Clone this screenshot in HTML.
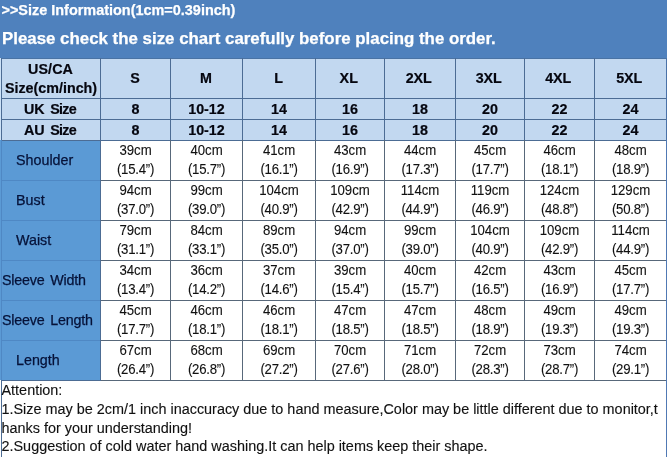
<!DOCTYPE html>
<html><head><meta charset="utf-8"><style>
*{margin:0;padding:0;box-sizing:border-box}
html,body{width:667px;height:457px;overflow:hidden;background:#fff}
body{position:relative;font-family:"Liberation Sans",sans-serif;color:#161616}
.a{position:absolute}
#w{position:absolute;left:0;top:0;width:667px;height:457px;will-change:transform}
.t1{left:1.5px;top:0px;font-weight:bold;font-size:14.45px;color:#fff;-webkit-text-stroke:0.25px #fff;line-height:20px;white-space:nowrap}
.t2{left:2px;top:28px;font-weight:bold;font-size:16.86px;color:#fff;-webkit-text-stroke:0.25px #fff;line-height:22px;white-space:nowrap}
.c{text-align:center;white-space:nowrap}
.b{font-weight:bold;font-size:14.3px;color:#05060f;-webkit-text-stroke:0.2px #05060f}
.d{font-size:13.2px;line-height:19px;color:#111;-webkit-text-stroke:0.1px #111}
.l2{letter-spacing:-0.25px}
.k{display:inline-block;transform:scaleY(1.08);transform-origin:50% 14px}
.sz{letter-spacing:-0.7px}
.lab{font-size:14.3px;color:#061238;-webkit-text-stroke:0.25px #061238;white-space:nowrap;line-height:20px}
.att{left:1.5px;font-size:14.42px;line-height:18.8px;color:#111;-webkit-text-stroke:0.12px #111;white-space:nowrap}
</style></head>
<body><div id="w">
<div class="a" style="left:0;top:0;width:667px;height:58px;background:#4F81BD"></div>
<div class="a t1">&gt;&gt;Size Information(1cm=0.39inch)</div>
<div class="a t2">Please check the size chart carefully before placing the order.</div>
<div class="a" style="left:0;top:58px;width:667px;height:82px;background:#C2D8F0"></div>
<div class="a" style="left:0;top:58px;width:1px;height:82px;background:#CCE2F8"></div>
<div class="a" style="left:0;top:140px;width:100px;height:240px;background:#5B9AD5"></div>
<div class="a" style="left:1px;top:58px;width:666px;height:1px;background:#4A73A4"></div>
<div class="a" style="left:1px;top:98px;width:666px;height:1px;background:#4C6C94"></div>
<div class="a" style="left:1px;top:119px;width:666px;height:1px;background:#4C6C94"></div>
<div class="a" style="left:1px;top:140px;width:666px;height:1px;background:#4C6C94"></div>
<div class="a" style="left:1px;top:180px;width:99px;height:1px;background:#4F88C4"></div>
<div class="a" style="left:100px;top:180px;width:567px;height:1px;background:#58687A"></div>
<div class="a" style="left:1px;top:220px;width:99px;height:1px;background:#4F88C4"></div>
<div class="a" style="left:100px;top:220px;width:567px;height:1px;background:#58687A"></div>
<div class="a" style="left:1px;top:260px;width:99px;height:1px;background:#4F88C4"></div>
<div class="a" style="left:100px;top:260px;width:567px;height:1px;background:#58687A"></div>
<div class="a" style="left:1px;top:300px;width:99px;height:1px;background:#4F88C4"></div>
<div class="a" style="left:100px;top:300px;width:567px;height:1px;background:#58687A"></div>
<div class="a" style="left:1px;top:340px;width:99px;height:1px;background:#4F88C4"></div>
<div class="a" style="left:100px;top:340px;width:567px;height:1px;background:#58687A"></div>
<div class="a" style="left:1px;top:380px;width:99px;height:1px;background:#4C6C94"></div>
<div class="a" style="left:100px;top:380px;width:567px;height:1px;background:#58687A"></div>
<div class="a" style="left:1px;top:58px;width:1px;height:82px;background:#4C6C94"></div>
<div class="a" style="left:1px;top:140px;width:1px;height:240px;background:#4F88C4"></div>
<div class="a" style="left:1px;top:380px;width:1px;height:77px;background:#4C6C94"></div>
<div class="a" style="left:100px;top:58px;width:1px;height:82px;background:#4C6C94"></div>
<div class="a" style="left:100px;top:140px;width:1px;height:241px;background:#4C6C94"></div>
<div class="a" style="left:170px;top:58px;width:1px;height:82px;background:#4C6C94"></div>
<div class="a" style="left:170px;top:140px;width:1px;height:241px;background:#58687A"></div>
<div class="a" style="left:242px;top:58px;width:1px;height:82px;background:#4C6C94"></div>
<div class="a" style="left:242px;top:140px;width:1px;height:241px;background:#58687A"></div>
<div class="a" style="left:315px;top:58px;width:1px;height:82px;background:#4C6C94"></div>
<div class="a" style="left:315px;top:140px;width:1px;height:241px;background:#58687A"></div>
<div class="a" style="left:384px;top:58px;width:1px;height:82px;background:#4C6C94"></div>
<div class="a" style="left:384px;top:140px;width:1px;height:241px;background:#58687A"></div>
<div class="a" style="left:455px;top:58px;width:1px;height:82px;background:#4C6C94"></div>
<div class="a" style="left:455px;top:140px;width:1px;height:241px;background:#58687A"></div>
<div class="a" style="left:524px;top:58px;width:1px;height:82px;background:#4C6C94"></div>
<div class="a" style="left:524px;top:140px;width:1px;height:241px;background:#58687A"></div>
<div class="a" style="left:594px;top:58px;width:1px;height:82px;background:#4C6C94"></div>
<div class="a" style="left:594px;top:140px;width:1px;height:241px;background:#58687A"></div>
<div class="a" style="left:666px;top:58px;width:1px;height:82px;background:#4A72A8"></div>
<div class="a" style="left:666px;top:140px;width:1px;height:317px;background:#5079B4"></div>
<div class="a c b" style="left:2px;width:98px;top:59px;line-height:19px;top:60px"><span style="letter-spacing:0.1px;margin-left:-1px">US/CA</span><br>Size(cm/inch)</div>
<div class="a c b" style="left:101px;width:69px;top:68px;line-height:20px;padding-right:1px">S</div>
<div class="a c b" style="left:171px;width:71px;top:68px;line-height:20px;padding-right:1px">M</div>
<div class="a c b" style="left:243px;width:72px;top:68px;line-height:20px;padding-right:1px">L</div>
<div class="a c b" style="left:316px;width:68px;top:68px;line-height:20px;padding-right:2.5px">XL</div>
<div class="a c b" style="left:385px;width:70px;top:68px;line-height:20px;padding-right:2.5px">2XL</div>
<div class="a c b" style="left:456px;width:68px;top:68px;line-height:20px;padding-right:2.5px">3XL</div>
<div class="a c b" style="left:525px;width:69px;top:68px;line-height:20px;padding-right:2.5px">4XL</div>
<div class="a c b" style="left:595px;width:71px;top:68px;line-height:20px;padding-right:2.5px">5XL</div>
<div class="a c b" style="left:2px;width:96px;top:99px;line-height:20px;word-spacing:1.5px">UK <span class="sz">Size</span></div>
<div class="a c b" style="left:2px;width:96px;top:120px;line-height:20px;word-spacing:1.5px">AU <span class="sz">Size</span></div>
<div class="a c b" style="left:101px;width:69px;top:99px;line-height:20px">8</div>
<div class="a c b" style="left:101px;width:69px;top:120px;line-height:20px">8</div>
<div class="a c b" style="left:171px;width:71px;top:99px;line-height:20px">10-12</div>
<div class="a c b" style="left:171px;width:71px;top:120px;line-height:20px">10-12</div>
<div class="a c b" style="left:243px;width:72px;top:99px;line-height:20px">14</div>
<div class="a c b" style="left:243px;width:72px;top:120px;line-height:20px">14</div>
<div class="a c b" style="left:316px;width:68px;top:99px;line-height:20px">16</div>
<div class="a c b" style="left:316px;width:68px;top:120px;line-height:20px">16</div>
<div class="a c b" style="left:385px;width:70px;top:99px;line-height:20px">18</div>
<div class="a c b" style="left:385px;width:70px;top:120px;line-height:20px">18</div>
<div class="a c b" style="left:456px;width:68px;top:99px;line-height:20px">20</div>
<div class="a c b" style="left:456px;width:68px;top:120px;line-height:20px">20</div>
<div class="a c b" style="left:525px;width:69px;top:99px;line-height:20px">22</div>
<div class="a c b" style="left:525px;width:69px;top:120px;line-height:20px">22</div>
<div class="a c b" style="left:595px;width:71px;top:99px;line-height:20px">24</div>
<div class="a c b" style="left:595px;width:71px;top:120px;line-height:20px">24</div>
<div class="a lab" style="left:16px;top:150px;">Shoulder</div>
<div class="a c d" style="left:101px;width:69px;top:141px;"><span class="k">39cm</span><br><span class="k l2">(15.4”)</span></div>
<div class="a c d" style="left:171px;width:71px;top:141px;"><span class="k">40cm</span><br><span class="k l2">(15.7”)</span></div>
<div class="a c d" style="left:243px;width:72px;top:141px;"><span class="k">41cm</span><br><span class="k l2">(16.1”)</span></div>
<div class="a c d" style="left:316px;width:68px;top:141px;"><span class="k">43cm</span><br><span class="k l2">(16.9”)</span></div>
<div class="a c d" style="left:385px;width:70px;top:141px;"><span class="k">44cm</span><br><span class="k l2">(17.3”)</span></div>
<div class="a c d" style="left:456px;width:68px;top:141px;"><span class="k">45cm</span><br><span class="k l2">(17.7”)</span></div>
<div class="a c d" style="left:525px;width:69px;top:141px;"><span class="k">46cm</span><br><span class="k l2">(18.1”)</span></div>
<div class="a c d" style="left:595px;width:71px;top:141px;"><span class="k">48cm</span><br><span class="k l2">(18.9”)</span></div>
<div class="a lab" style="left:16px;top:190px;">Bust</div>
<div class="a c d" style="left:101px;width:69px;top:181px;"><span class="k">94cm</span><br><span class="k l2">(37.0”)</span></div>
<div class="a c d" style="left:171px;width:71px;top:181px;"><span class="k">99cm</span><br><span class="k l2">(39.0”)</span></div>
<div class="a c d" style="left:243px;width:72px;top:181px;"><span class="k">104cm</span><br><span class="k l2">(40.9”)</span></div>
<div class="a c d" style="left:316px;width:68px;top:181px;"><span class="k">109cm</span><br><span class="k l2">(42.9”)</span></div>
<div class="a c d" style="left:385px;width:70px;top:181px;"><span class="k">114cm</span><br><span class="k l2">(44.9”)</span></div>
<div class="a c d" style="left:456px;width:68px;top:181px;"><span class="k">119cm</span><br><span class="k l2">(46.9”)</span></div>
<div class="a c d" style="left:525px;width:69px;top:181px;"><span class="k">124cm</span><br><span class="k l2">(48.8”)</span></div>
<div class="a c d" style="left:595px;width:71px;top:181px;"><span class="k">129cm</span><br><span class="k l2">(50.8”)</span></div>
<div class="a lab" style="left:16px;top:230px;">Waist</div>
<div class="a c d" style="left:101px;width:69px;top:221px;"><span class="k">79cm</span><br><span class="k l2">(31.1”)</span></div>
<div class="a c d" style="left:171px;width:71px;top:221px;"><span class="k">84cm</span><br><span class="k l2">(33.1”)</span></div>
<div class="a c d" style="left:243px;width:72px;top:221px;"><span class="k">89cm</span><br><span class="k l2">(35.0”)</span></div>
<div class="a c d" style="left:316px;width:68px;top:221px;"><span class="k">94cm</span><br><span class="k l2">(37.0”)</span></div>
<div class="a c d" style="left:385px;width:70px;top:221px;"><span class="k">99cm</span><br><span class="k l2">(39.0”)</span></div>
<div class="a c d" style="left:456px;width:68px;top:221px;"><span class="k">104cm</span><br><span class="k l2">(40.9”)</span></div>
<div class="a c d" style="left:525px;width:69px;top:221px;"><span class="k">109cm</span><br><span class="k l2">(42.9”)</span></div>
<div class="a c d" style="left:595px;width:71px;top:221px;"><span class="k">114cm</span><br><span class="k l2">(44.9”)</span></div>
<div class="a lab" style="left:2px;top:270px;word-spacing:2px;letter-spacing:-0.2px;">Sleeve Width</div>
<div class="a c d" style="left:101px;width:69px;top:261px;"><span class="k">34cm</span><br><span class="k l2">(13.4”)</span></div>
<div class="a c d" style="left:171px;width:71px;top:261px;"><span class="k">36cm</span><br><span class="k l2">(14.2”)</span></div>
<div class="a c d" style="left:243px;width:72px;top:261px;"><span class="k">37cm</span><br><span class="k l2">(14.6”)</span></div>
<div class="a c d" style="left:316px;width:68px;top:261px;"><span class="k">39cm</span><br><span class="k l2">(15.4”)</span></div>
<div class="a c d" style="left:385px;width:70px;top:261px;"><span class="k">40cm</span><br><span class="k l2">(15.7”)</span></div>
<div class="a c d" style="left:456px;width:68px;top:261px;"><span class="k">42cm</span><br><span class="k l2">(16.5”)</span></div>
<div class="a c d" style="left:525px;width:69px;top:261px;"><span class="k">43cm</span><br><span class="k l2">(16.9”)</span></div>
<div class="a c d" style="left:595px;width:71px;top:261px;"><span class="k">45cm</span><br><span class="k l2">(17.7”)</span></div>
<div class="a lab" style="left:2px;top:310px;word-spacing:2px;letter-spacing:-0.2px;">Sleeve Length</div>
<div class="a c d" style="left:101px;width:69px;top:301px;"><span class="k">45cm</span><br><span class="k l2">(17.7”)</span></div>
<div class="a c d" style="left:171px;width:71px;top:301px;"><span class="k">46cm</span><br><span class="k l2">(18.1”)</span></div>
<div class="a c d" style="left:243px;width:72px;top:301px;"><span class="k">46cm</span><br><span class="k l2">(18.1”)</span></div>
<div class="a c d" style="left:316px;width:68px;top:301px;"><span class="k">47cm</span><br><span class="k l2">(18.5”)</span></div>
<div class="a c d" style="left:385px;width:70px;top:301px;"><span class="k">47cm</span><br><span class="k l2">(18.5”)</span></div>
<div class="a c d" style="left:456px;width:68px;top:301px;"><span class="k">48cm</span><br><span class="k l2">(18.9”)</span></div>
<div class="a c d" style="left:525px;width:69px;top:301px;"><span class="k">49cm</span><br><span class="k l2">(19.3”)</span></div>
<div class="a c d" style="left:595px;width:71px;top:301px;"><span class="k">49cm</span><br><span class="k l2">(19.3”)</span></div>
<div class="a lab" style="left:16px;top:350px;">Length</div>
<div class="a c d" style="left:101px;width:69px;top:341px;"><span class="k">67cm</span><br><span class="k l2">(26.4”)</span></div>
<div class="a c d" style="left:171px;width:71px;top:341px;"><span class="k">68cm</span><br><span class="k l2">(26.8”)</span></div>
<div class="a c d" style="left:243px;width:72px;top:341px;"><span class="k">69cm</span><br><span class="k l2">(27.2”)</span></div>
<div class="a c d" style="left:316px;width:68px;top:341px;"><span class="k">70cm</span><br><span class="k l2">(27.6”)</span></div>
<div class="a c d" style="left:385px;width:70px;top:341px;"><span class="k">71cm</span><br><span class="k l2">(28.0”)</span></div>
<div class="a c d" style="left:456px;width:68px;top:341px;"><span class="k">72cm</span><br><span class="k l2">(28.3”)</span></div>
<div class="a c d" style="left:525px;width:69px;top:341px;"><span class="k">73cm</span><br><span class="k l2">(28.7”)</span></div>
<div class="a c d" style="left:595px;width:71px;top:341px;"><span class="k">74cm</span><br><span class="k l2">(29.1”)</span></div>
<div class="a att" style="top:381px">Attention:<br>1.Size may be 2cm/1 inch inaccuracy due to hand measure,Color may be little different due to monitor,t<br>hanks for your understanding!<br>2.Suggestion of cold water hand washing.It can help items keep their shape.</div>
</div></body></html>
